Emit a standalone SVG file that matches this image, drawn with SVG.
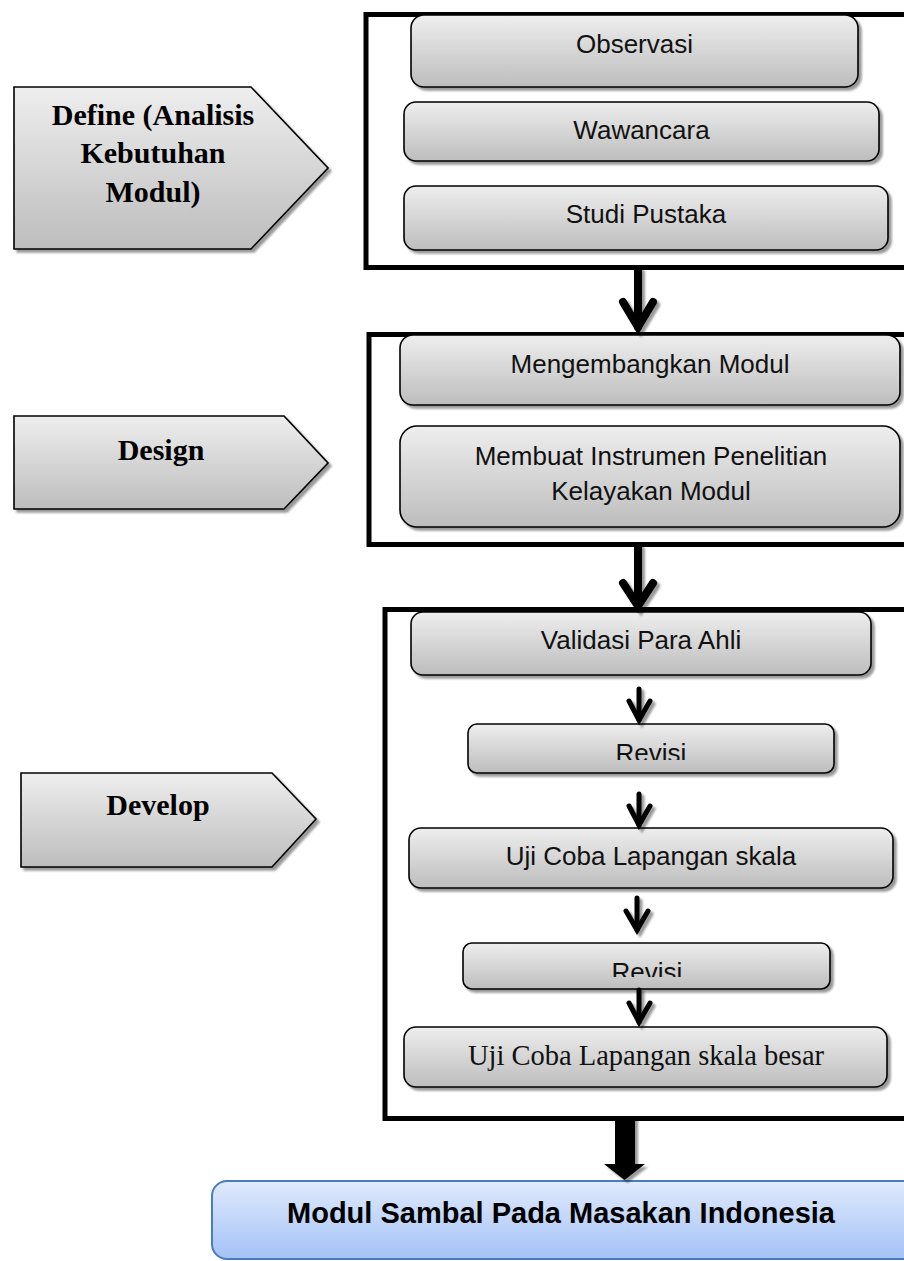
<svg xmlns="http://www.w3.org/2000/svg" width="904" height="1261" viewBox="0 0 904 1261">
<defs>
<linearGradient id="gGray" x1="0" y1="0" x2="0" y2="1">
<stop offset="0" stop-color="#eeeeee"/>
<stop offset="1" stop-color="#bdbdbd"/>
</linearGradient>
<linearGradient id="gBlue" x1="0" y1="0" x2="0" y2="1">
<stop offset="0" stop-color="#e0eafc"/>
<stop offset="1" stop-color="#a3c2f6"/>
</linearGradient>
<filter id="sh" x="-10%" y="-20%" width="130%" height="150%">
<feGaussianBlur in="SourceAlpha" stdDeviation="1.2"/>
<feOffset dx="2.5" dy="3" result="o"/>
<feFlood flood-color="#000" flood-opacity="0.4"/>
<feComposite in2="o" operator="in"/>
<feMerge><feMergeNode/><feMergeNode in="SourceGraphic"/></feMerge>
</filter>
<clipPath id="clipR1"><rect x="400" y="730" width="400" height="30"/></clipPath>
<clipPath id="clipR2"><rect x="400" y="945" width="400" height="32"/></clipPath>
<style>
.box{fill:url(#gGray);stroke:#000;stroke-width:1.6;filter:url(#sh)}
.pent{fill:url(#gGray);stroke:#000;stroke-width:1.6;filter:url(#sh)}
.frame{fill:none;stroke:#000;stroke-width:5}
.t{font-family:"Liberation Sans",Arial,sans-serif;font-size:26px;fill:#111;text-anchor:middle}
.tb{font-family:"Liberation Serif","Times New Roman",serif;font-size:30px;font-weight:bold;fill:#000;text-anchor:middle}
.tr{font-family:"Liberation Serif","Times New Roman",serif;font-size:28.5px;fill:#111;text-anchor:middle}
.big{fill:none;stroke:#000;stroke-width:8;stroke-linecap:round;stroke-linejoin:miter}
.sm{fill:none;stroke:#000;stroke-width:5;stroke-linecap:round;stroke-linejoin:miter}
</style>
</defs>

<g id="define-phase">
<polygon class="pent" points="14,87 251,87 328,168 251,249 14,249"/>
<text class="tb" x="153" y="125">Define (Analisis</text>
<text class="tb" x="153" y="163">Kebutuhan</text>
<text class="tb" x="153" y="202">Modul)</text>
</g>
<g id="design-phase">
<polygon class="pent" points="14,416 284,416 328,463 284,509 14,509"/>
<text class="tb" x="161" y="460">Design</text>
</g>
<g id="develop-phase">
<polygon class="pent" points="21,773 272,773 316,819 272,867 21,867"/>
<text class="tb" x="158" y="815">Develop</text>
</g>

<g id="define-group">
<rect class="frame" x="366" y="14.5" width="560" height="253"/>
</g>
<g id="design-group">
<rect class="frame" x="369" y="334.5" width="560" height="210"/>
</g>
<g id="develop-group">
<rect class="frame" x="385" y="609.5" width="560" height="509"/>
</g>

<g id="observasi">
<rect class="box" x="411" y="15" width="447" height="72" rx="13"/>
<text class="t" x="634.5" y="53">Observasi</text>
</g>
<g id="wawancara">
<rect class="box" x="404" y="102" width="475" height="59" rx="12"/>
<text class="t" x="641.5" y="139">Wawancara</text>
</g>
<g id="studi-pustaka">
<rect class="box" x="404" y="186" width="484" height="64" rx="12"/>
<text class="t" x="646" y="223">Studi Pustaka</text>
</g>

<g id="mengembangkan">
<rect class="box" x="400" y="335" width="500" height="70" rx="13"/>
<text class="t" x="650" y="373">Mengembangkan Modul</text>
</g>
<g id="membuat-instrumen">
<rect class="box" x="400" y="426" width="500" height="101" rx="17"/>
<text class="t" x="651" y="465">Membuat Instrumen Penelitian</text>
<text class="t" x="651" y="500">Kelayakan Modul</text>
</g>

<g id="validasi">
<rect class="box" x="411" y="612" width="460" height="63" rx="12"/>
<text class="t" x="641" y="649">Validasi Para Ahli</text>
</g>
<g id="revisi-1">
<rect class="box" x="468" y="724" width="366" height="49" rx="9"/>
<text class="t" x="651" y="762" clip-path="url(#clipR1)">Revisi</text>
</g>
<g id="uji-coba">
<rect class="box" x="409" y="828" width="484" height="60" rx="12"/>
<text class="t" x="651" y="865">Uji Coba Lapangan skala</text>
</g>
<g id="revisi-2">
<rect class="box" x="463" y="943" width="367" height="46" rx="9"/>
<text class="t" x="647" y="981" clip-path="url(#clipR2)">Revisi</text>
</g>
<g id="uji-coba-besar">
<rect class="box" x="404" y="1027" width="483" height="60" rx="12"/>
<text class="tr" x="646" y="1065">Uji Coba Lapangan skala besar</text>
</g>

<g id="modul-sambal">
<rect x="212" y="1181" width="720" height="78" rx="15" fill="url(#gBlue)" stroke="#4a7ebb" stroke-width="2"/>
<text x="561" y="1223" font-family="'Liberation Sans',Arial,sans-serif" font-size="29" font-weight="bold" fill="#000" text-anchor="middle">Modul Sambal Pada Masakan Indonesia</text>
</g>

<g id="connectors" filter="url(#sh)">
<line class="big" x1="638" y1="270" x2="638" y2="327"/>
<polyline class="big" points="623,302 638,327 653,302"/>
<line class="big" x1="638" y1="547" x2="638" y2="606"/>
<polyline class="big" points="623,583 638,606 653,583"/>
<line class="sm" x1="639" y1="689" x2="639" y2="720"/>
<polyline class="sm" points="629,701 639,720 650,701"/>
<line class="sm" x1="639" y1="794" x2="639" y2="825"/>
<polyline class="sm" points="629,806 639,825 650,806"/>
<line class="sm" x1="637" y1="898" x2="637" y2="930"/>
<polyline class="sm" points="626,911 637,930 648,911"/>
<line class="sm" x1="639" y1="990" x2="639" y2="1022"/>
<polyline class="sm" points="629,1003 639,1022 650,1003"/>
<polygon points="615,1116 635,1116 635,1164 645,1164 624.5,1180 604,1164 615,1164" fill="#000"/>
</g>
</svg>
